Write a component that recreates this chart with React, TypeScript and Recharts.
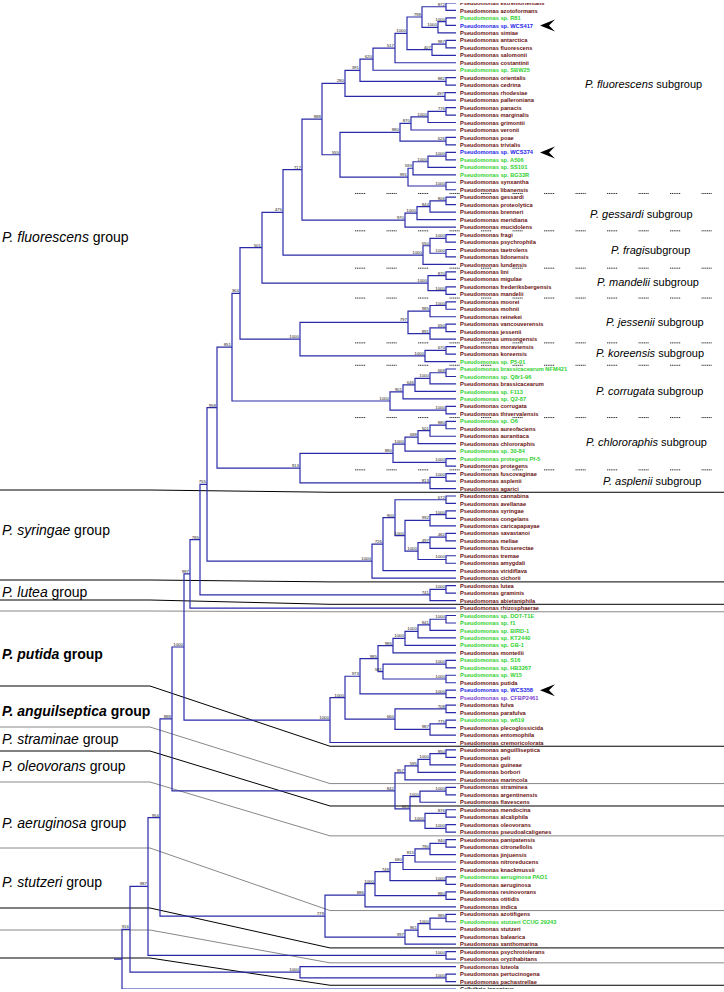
import { ComposedChart, Line, Scatter, XAxis, YAxis, ReferenceLine } from "recharts";

// leaf order top to bottom
const leafNames = [
  "Pseudomonas extremorientalis", "Pseudomonas azotoformans", "Pseudomonas sp. R81", "Pseudomonas sp. WCS417",
  "Pseudomonas simiae", "Pseudomonas antarctica", "Pseudomonas fluorescens", "Pseudomonas salomonii",
  "Pseudomonas costantinii", "Pseudomonas sp. SBW25", "Pseudomonas orientalis", "Pseudomonas cedrina",
  "Pseudomonas rhodesiae", "Pseudomonas palleroniana", "Pseudomonas panacis", "Pseudomonas marginalis",
  "Pseudomonas grimontii", "Pseudomonas veronii", "Pseudomonas poae", "Pseudomonas trivialis",
  "Pseudomonas sp. WCS374", "Pseudomonas sp. A506", "Pseudomonas sp. SS101", "Pseudomonas sp. BG33R",
  "Pseudomonas synxantha", "Pseudomonas libanensis", "Pseudomonas gessardi", "Pseudomonas proteolytica",
  "Pseudomonas brenneri", "Pseudomonas meridiana", "Pseudomonas mucidolens", "Pseudomonas fragi",
  "Pseudomonas psychrophila", "Pseudomonas taetrolens", "Pseudomonas lidonensis", "Pseudomonas lundensis",
  "Pseudomonas lini", "Pseudomonas migulae", "Pseudomonas frederiksbergensis", "Pseudomonas mandelii",
  "Pseudomonas moorei", "Pseudomonas mohnii", "Pseudomonas reinekei", "Pseudomonas vancouverensis",
  "Pseudomonas jessenii", "Pseudomonas umsongensis", "Pseudomonas moraviensis", "Pseudomonas koreensis",
  "Pseudomonas sp. P5-01", "Pseudomonas brassicacearum NFM421", "Pseudomonas sp. Q8r1-96", "Pseudomonas brassicacearum",
  "Pseudomonas sp. F113", "Pseudomonas sp. Q2-87", "Pseudomonas corrugata", "Pseudomonas thivervalensis",
  "Pseudomonas sp. O6", "Pseudomonas aureofaciens", "Pseudomonas aurantiaca", "Pseudomonas chlororaphis",
  "Pseudomonas sp. 30-84", "Pseudomonas protegens Pf-5", "Pseudomonas protegens", "Pseudomonas fuscovaginae",
  "Pseudomonas asplenii", "Pseudomonas agarici", "Pseudomonas cannabina", "Pseudomonas avellanae",
  "Pseudomonas syringae", "Pseudomonas congelans", "Pseudomonas caricapapayae", "Pseudomonas savastanoi",
  "Pseudomonas meliae", "Pseudomonas ficuserectae", "Pseudomonas tremae", "Pseudomonas amygdali",
  "Pseudomonas viridiflava", "Pseudomonas cichorii", "Pseudomonas lutea", "Pseudomonas graminis",
  "Pseudomonas abietaniphila", "Pseudomonas rhizosphaerae", "Pseudomonas sp. DOT-T1E", "Pseudomonas sp. f1",
  "Pseudomonas sp. BIRD-1", "Pseudomonas sp. KT2440", "Pseudomonas sp. GB-1", "Pseudomonas monteilii",
  "Pseudomonas sp. S16", "Pseudomonas sp. HB3267", "Pseudomonas sp. W15", "Pseudomonas putida",
  "Pseudomonas sp. WCS358", "Pseudomonas sp. CFBP2461", "Pseudomonas fulva", "Pseudomonas parafulva",
  "Pseudomonas sp. w619", "Pseudomonas plecoglossicida", "Pseudomonas entomophila", "Pseudomonas cremoricolorata",
  "Pseudomonas anguilliseptica", "Pseudomonas peli", "Pseudomonas guineae", "Pseudomonas borbori",
  "Pseudomonas marincola", "Pseudomonas straminea", "Pseudomonas argentinensis", "Pseudomonas flavescens",
  "Pseudomonas mendocina", "Pseudomonas alcaliphila", "Pseudomonas oleovorans", "Pseudomonas pseudoalcaligenes",
  "Pseudomonas panipatensis", "Pseudomonas citronellolis", "Pseudomonas jinjuensis", "Pseudomonas nitroreducens",
  "Pseudomonas knackmussii", "Pseudomonas aeruginosa PAO1", "Pseudomonas aeruginosa", "Pseudomonas resinovorans",
  "Pseudomonas otitidis", "Pseudomonas indica", "Pseudomonas azotifigens", "Pseudomonas stutzeri CCUG 29243",
  "Pseudomonas stutzeri", "Pseudomonas balearica", "Pseudomonas xanthomarina", "Pseudomonas psychrotolerans",
  "Pseudomonas oryzihabitans", "Pseudomonas luteola", "Pseudomonas pertucinogena", "Pseudomonas pachastrellae",
  "Cellvibrio japonicus",
];

// r = type strain, g = genome strain, b = WCS strain, v = other, k = outgroup
const leafKinds =
  "rrgbrrrrrgrrrrrrrrrrbggg" + "rr" + "rrrrr" + "rrrrr" + "rrrr" + "rrrrrr" + "rrg" + "ggrggrr" +
  "grrrggr" + "rrr" + "rrrrrrrrrrrr" + "rrr" + "r" + "gggggrgggrbvrrgrrr" + "rrrrr" + "rrr" + "rrrr" +
  "rrrrrgrrrr" + "rgrrr" + "rr" + "rrr" + "k";

const arrowLeaves = [3, 20, 92];

// branch support values (per node)
type Node = { x: number; bs: number | null; kids: (Node | number)[] };
const n = (x: number, bs: number | null, ...kids: (Node | number)[]): Node => ({ x, bs, kids });

const fluoSub = n(322, 888,
  n(345, 280,
    n(360, 391,
      n(373, 620,
        n(395, 517,
          n(407, 1000,
            n(422, 798, n(446, 872, 0, 1), n(438, 1000, n(446, 1000, 2, 3), 4)),
            n(432, 407, n(446, 987, 5, 6), 7)),
          8),
        9),
      n(446, 882, 10, 11)),
    n(445, 497, 12, 13)),
  n(340, 555,
    n(400, 880, n(411, 870, n(428, 1000, n(446, 776, 14, 15), 16), 17), n(446, 626, 18, 19)),
    n(408, 991, n(413, 593, n(428, 1000, n(446, 1000, 20, 21), 22), 23), n(446, 1000, 24, 25))));
const gessSub = n(405, 970, n(417, 1000, n(430, 844, n(446, 806, 26, 27), 28), 29), 30);
const fragiSub = n(423, 1000, n(430, 650, n(446, 1000, 31, 32), n(446, 1000, 33, 34)), 35);
const mandSub = n(428, 1000, n(446, 870, 36, 37), n(446, 1000, 38, 39));
const jessSub = n(408, 797, n(430, 985, n(446, 1000, 40, 41), 42), n(430, 891, n(446, 650, 43, 44), 45));
const koreSub = n(425, 1000, n(446, 670, 46, 47), 48);
const corrSub = n(390, 1000,
  n(403, 901, n(415, 646, n(430, 1000, n(446, 668, 49, 50), 51), 52), 53),
  n(446, 1000, 54, 55));
const chloSub = n(393, 880,
  n(405, 1000, n(418, 688, n(430, 501, n(446, 880, 56, 57), 58), 59), 60),
  n(446, 1000, 61, 62));
const asplSub = n(430, 813, n(446, 1000, 63, 64), 65);

const fluoGroup = n(217, 958,
  n(232, 851,
    n(240, 364,
      n(262, 501, n(283, 475, n(302, 717, fluoSub, gessSub), fragiSub), mandSub),
      n(300, 1000, jessSub, koreSub)),
    corrSub),
  n(300, 913, chloSub, asplSub));

const syrGroup = n(372, 1000,
  n(383, 726,
    n(395, 900,
      n(446, 672, 66, 67),
      n(405, 1000,
        n(430, 992, n(446, 1000, 68, 69), 70),
        n(418, 1000, n(430, 497, n(446, 482, 71, 72), 73), n(446, 1000, 74, 75)))),
    76),
  77);
const luteaGroup = n(430, 741, n(446, 1000, 78, 79), 80);

const putidaGroup = n(330, 1000,
  n(345, 1000,
    n(360, 973,
      n(378, 985,
        n(393, 985, n(405, 1000, n(418, 1000, n(430, 841, n(446, 1000, 82, 83), 84), 85), 86), 87),
        n(383, 581, n(446, 1000, 88, 89), n(446, 1000, 90, 91))),
      n(446, 1000, 92, 93)),
    n(395, 660, n(446, 708, 94, 95), n(430, 987, n(446, 775, 96, 97), 98))),
  99);

const angGroup = n(405, 957, n(418, 595, n(430, 1000, n(446, 850, 100, 101), 102), 103), 104);
const stramGroup = n(420, 1000, n(446, 1000, 105, 106), 107);
const oleoGroup = n(425, 1000, n(446, 876, 108, 109), n(446, 1000, 110, 111));
const aerGroup = n(365, 886,
  n(375, 1000,
    n(390, 748,
      n(403, 680, n(415, 815, n(430, 790, n(446, 840, 112, 113), 114), 115), 116),
      n(446, 1000, 117, 118)),
    n(446, 880, 119, 120)),
  121);
const stutGroup = n(405, 997, n(418, 961, n(430, 1000, n(446, 985, 122, 123), 124), 125), 126);

const tree = n(122, null,
  n(130, 916,
    n(148, 987,
      n(160, 954,
        n(172, 888,
          n(184, 1000,
            n(190, 997, n(200, 785, n(207, 755, fluoGroup, syrGroup), luteaGroup), 81),
            putidaGroup),
          n(395, 842, angGroup, n(410, 843, stramGroup, oleoGroup))),
        n(325, 779, aerGroup, stutGroup)),
      n(446, 1000, 127, 128)),
    n(300, 1000, 129, n(446, 1000, 130, 131))),
  132);

// group boundaries: y on the right side (leaf index), y on the left side (px)
const groupLinesRight = [65.5, 77.5, 80.5, 81.5, 99.5, 104.5, 107.5, 111.5, 121.5, 126.5, 128.5, 131.5];
const groupLinesLeft = [490, 580, 600, 611, 686, 727, 751, 782, 848, 908, 930, 958];
const groupLinesGray = [false, false, false, true, false, true, false, true, true, false, true, false];
const subgroupLines = [25.5, 30.5, 35.5, 39.5, 45.5, 48.5, 55.5, 62.5];

const groupLabels = [
  { it: "P. fluorescens", rest: " group", y: 237, bold: false },
  { it: "P. syringae", rest: " group", y: 530, bold: false },
  { it: "P. lutea", rest: " group", y: 592, bold: false },
  { it: "P. putida", rest: " group", y: 654, bold: true },
  { it: "P. anguilseptica", rest: " group", y: 711, bold: true },
  { it: "P. straminae", rest: " group", y: 739, bold: false },
  { it: "P. oleovorans", rest: " group", y: 766, bold: false },
  { it: "P. aeruginosa", rest: " group", y: 823, bold: false },
  { it: "P. stutzeri", rest: " group", y: 882, bold: false },
];
const subgroupLabels = [
  { it: "P. fluorescens", rest: " subgroup", x: 585, y: 84 },
  { it: "P. gessardi", rest: " subgroup", x: 590, y: 214 },
  { it: "P. fragi", rest: "subgroup", x: 611, y: 250 },
  { it: "P. mandelii", rest: " subgroup", x: 597, y: 282 },
  { it: "P. jessenii", rest: " subgroup", x: 606, y: 322 },
  { it: "P. koreensis", rest: " subgroup", x: 596, y: 353 },
  { it: "P. corrugata", rest: " subgroup", x: 596, y: 391 },
  { it: "P. chlororaphis", rest: " subgroup", x: 586, y: 442 },
  { it: "P. asplenii", rest: " subgroup", x: 603, y: 481 },
];

const W = 724;
const H = 992;
const TOP = 3;
const BOTTOM = 3;
const TIP = 456;
const LAST = leafNames.length - 1;
const STEP = (H - TOP - BOTTOM) / LAST;
const pxToIdx = (px: number) => (px - TOP) / STEP;

const kindColor: Record<string, string> = {
  r: "#6b1010",
  g: "#2fd12f",
  b: "#1c1ce8",
  v: "#7a3ccf",
  k: "#111111",
};
const FONT = "'Liberation Sans', Arial, sans-serif";
const BRANCH = "#2a2aa8";

type Pt = { x: number; y: number | null };
const branchPts: Pt[] = [];
const nodePts: { x: number; y: number; bs: number | null }[] = [];

function layout(node: Node | number): { x: number; y: number } {
  if (typeof node === "number") return { x: TIP, y: node };
  const kids = node.kids.map(layout);
  const first = kids[0];
  const last = kids[kids.length - 1];
  branchPts.push(
    { x: first.x, y: first.y },
    { x: node.x, y: first.y },
    { x: node.x, y: last.y },
    { x: last.x, y: last.y },
    { x: last.x, y: null },
  );
  for (const k of kids.slice(1, -1)) {
    branchPts.push({ x: node.x, y: k.y }, { x: k.x, y: k.y }, { x: k.x, y: null });
  }
  const y = (first.y + last.y) / 2;
  nodePts.push({ x: node.x, y, bs: node.bs });
  return { x: node.x, y };
}
const rootPos = layout(tree);
branchPts.push({ x: 114, y: rootPos.y }, { x: rootPos.x, y: rootPos.y }, { x: rootPos.x, y: null });

const leafPts = leafNames.map((name, i) => ({ x: TIP, y: i, name, kind: leafKinds[i] }));
const arrowPts = arrowLeaves.map((i) => ({ x: 540, y: i }));
const groupPts = groupLabels.map((g) => ({ ...g, x: 2, y: pxToIdx(g.y) }));
const subPts = subgroupLabels.map((s) => ({ ...s, y: pxToIdx(s.y) }));

function LeafLabel(props: any) {
  const { cx, cy, payload } = props;
  return (
    <text x={cx + 4} y={cy + 2.1} fontSize={5.7} fontWeight="bold" fontFamily={FONT} fill={kindColor[payload.kind]}>
      {payload.name}
    </text>
  );
}

function BsLabel(props: any) {
  const { cx, cy, payload } = props;
  if (payload.bs == null) return <g />;
  return (
    <text x={cx - 1} y={cy - 1} textAnchor="end" fontSize={4.4} fontFamily={FONT} fill="#222">
      {payload.bs}
    </text>
  );
}

function Arrow(props: any) {
  const { cx, cy } = props;
  return <path d={`M${cx},${cy} L${cx + 15},${cy - 6} L${cx + 9},${cy} L${cx + 15},${cy + 6} Z`} fill="#000" />;
}

function GroupLabel(props: any) {
  const { cx, cy, payload } = props;
  return (
    <text x={cx} y={cy + 5} fontSize={14} fontFamily={FONT} fill="#000" fontWeight={payload.bold ? "bold" : "normal"}>
      <tspan fontStyle="italic">{payload.it}</tspan>
      {payload.rest}
    </text>
  );
}

function SubLabel(props: any) {
  const { cx, cy, payload } = props;
  return (
    <text x={cx} y={cy + 4} fontSize={11} fontFamily={FONT} fill="#000">
      <tspan fontStyle="italic">{payload.it}</tspan>
      {payload.rest}
    </text>
  );
}

export default function App() {
  return (
    <div style={{ width: W, height: H, background: "#fff" }}>
      <style>{"body{margin:0}"}</style>
      <ComposedChart width={W} height={H} margin={{ top: TOP, right: 0, bottom: BOTTOM, left: 0 }}>
        <XAxis type="number" dataKey="x" domain={[0, W]} hide allowDataOverflow />
        <YAxis type="number" dataKey="y" domain={[0, LAST]} reversed hide allowDataOverflow />
        {groupLinesRight.map((yr, i) => {
          const yl = pxToIdx(groupLinesLeft[i]);
          const stroke = groupLinesGray[i] ? "#888" : "#000";
          return [
            <ReferenceLine key={`gl${i}`} segment={[{ x: 0, y: yl }, { x: 150, y: yl }]} stroke={stroke} strokeWidth={1} />,
            <ReferenceLine key={`gm${i}`} segment={[{ x: 150, y: yl }, { x: 330, y: yr }]} stroke={stroke} strokeWidth={1} />,
            <ReferenceLine key={`gr${i}`} segment={[{ x: 330, y: yr }, { x: W, y: yr }]} stroke={stroke} strokeWidth={1} />,
          ];
        })}
        {subgroupLines.map((y, i) => (
          <ReferenceLine
            key={`sl${i}`}
            segment={[{ x: 355, y }, { x: W, y }]}
            stroke="#333"
            strokeWidth={1}
            strokeDasharray="1.2 0.6 1.2 0.6 1.2 0.6 1.2 0.6 1.2 0.6 1.2 21.3"
          />
        ))}
        <Line
          data={branchPts}
          dataKey="y"
          stroke={BRANCH}
          strokeWidth={1.2}
          dot={false}
          activeDot={false}
          isAnimationActive={false}
          connectNulls={false}
        />
        <Scatter data={nodePts} shape={BsLabel} isAnimationActive={false} />
        <Scatter data={leafPts} shape={LeafLabel} isAnimationActive={false} />
        <Scatter data={arrowPts} shape={Arrow} isAnimationActive={false} />
        <Scatter data={groupPts} shape={GroupLabel} isAnimationActive={false} />
        <Scatter data={subPts} shape={SubLabel} isAnimationActive={false} />
      </ComposedChart>
    </div>
  );
}
